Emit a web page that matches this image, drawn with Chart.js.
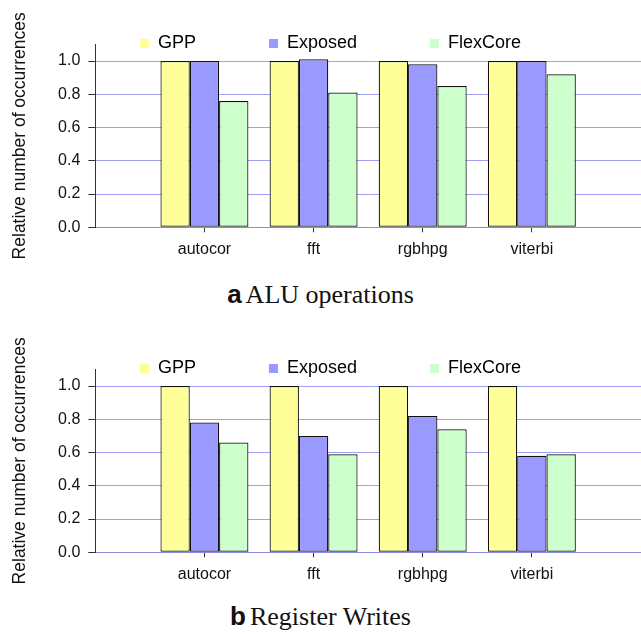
<!DOCTYPE html>
<html>
<head>
<meta charset="utf-8">
<script src="https://cdn.jsdelivr.net/npm/chart.js@4/dist/chart.umd.min.js"></script>
<style>
  html, body { margin: 0; padding: 0; background: #fff; }
  body { width: 641px; height: 634px; position: relative; overflow: hidden; }
  .box { position: absolute; left: 0; width: 641px; height: 270px; }
  .cap { position: absolute; left: 0; width: 641px; text-align: center; line-height: 26px; color: #111; white-space: nowrap; }
  .cap b { font-family: "Liberation Sans", Arial, sans-serif; font-weight: bold; font-size: 26px; }
  .cap span { font-family: "Liberation Serif", "Times New Roman", serif; font-size: 26px; }
</style>
</head>
<body>
<div class="box" style="top:0px"><canvas id="chartA"></canvas></div>
<div class="cap" style="top:281px"><b>a</b> <span>ALU operations</span></div>
<div class="box" style="top:325px"><canvas id="chartB"></canvas></div>
<div class="cap" style="top:603px"><b>b</b> <span>Register Writes</span></div>
<script>
// ---- data ----
const categories = ['autocor', 'fft', 'rgbhpg', 'viterbi'];
const seriesNames = ['GPP', 'Exposed', 'FlexCore'];
const gppA = [1.00, 1.00, 1.00, 1.00];
const exposedA = [1.00, 1.01, 0.98, 1.00];
const flexA = [0.76, 0.81, 0.85, 0.92];
const gppB = [1.00, 1.00, 1.00, 1.00];
const exposedB = [0.78, 0.70, 0.82, 0.58];
const flexB = [0.66, 0.59, 0.74, 0.59];
const yTickValues = [0.0, 0.2, 0.4, 0.6, 0.8, 1.0];
const yTitle = 'Relative number of occurrences';

const colors = ['#ffff99', '#9999ff', '#ccffcc'];
const FONT = '"Liberation Sans", Arial, Helvetica, sans-serif';
const H = 270;
const AREA_LEFT = 95.3;
const AREA_BOTTOM = 227.3;
const LEGEND_TOP = 34.5;
const LEGEND_DX = 10;

const labels = ['', ...categories, ''];
const pad = arr => [null, ...arr, null];

const legendShift = {
  id: 'legendShift',
  afterLayout(chart) {
    const lg = chart.legend;
    if (!lg) return;
    const p = lg.options.labels.padding;
    lg.top = LEGEND_TOP - p;
    lg.bottom = LEGEND_TOP + 30;
    lg.height = lg.bottom - lg.top;
    lg.left += LEGEND_DX;
    lg.right += LEGEND_DX;
  }
};

function makeChart(id, series) {
  const ctx = document.getElementById(id);
  return new Chart(ctx, {
    type: 'bar',
    data: {
      labels: labels,
      datasets: series.map((vals, i) => ({
        label: seriesNames[i],
        data: pad(vals),
        backgroundColor: colors[i],
        borderColor: '#111',
        borderWidth: 1.2,
        borderSkipped: false,
        categoryPercentage: 0.806,
        barPercentage: 1.0
      }))
    },
    options: {
      responsive: true,
      maintainAspectRatio: false,
      animation: false,
      layout: { padding: { top: 43.4, left: 0, right: 0, bottom: 0 } },
      plugins: {
        tooltip: { enabled: false },
        legend: {
          display: true,
          position: 'top',
          maxHeight: 1,
          labels: {
            boxWidth: 9,
            boxHeight: 9,
            padding: 73,
            color: '#000',
            font: { family: FONT, size: 18 },
            generateLabels(chart) {
              return Chart.defaults.plugins.legend.labels.generateLabels(chart)
                .map(l => Object.assign(l, { lineWidth: 0, strokeStyle: 'rgba(0,0,0,0)' }));
            }
          }
        }
      },
      scales: {
        x: {
          offset: false,
          afterFit(scale) {
            scale.height = H - AREA_BOTTOM;
            scale.paddingLeft = 0;
            scale.paddingRight = 0;
          },
          grid: {
            display: true,
            drawOnChartArea: false,
            drawTicks: true,
            tickLength: 5,
            tickColor: c => (c.index === 0 || c.index === labels.length - 1) ? 'rgba(0,0,0,0)' : '#333',
            offset: false
          },
          border: { display: true, color: '#8a8ad6', width: 1 },
          ticks: {
            autoSkip: false,
            maxRotation: 0,
            color: '#111',
            padding: 8,
            font: { family: FONT, size: 16 }
          }
        },
        y: {
          min: 0,
          max: 1.1,
          afterFit(scale) {
            scale.width = AREA_LEFT;
            scale.paddingTop = 0;
            scale.paddingBottom = 0;
          },
          afterBuildTicks(scale) { scale.ticks = yTickValues.map(v => ({ value: v })); },
          grid: {
            color: c => (c.tick && c.tick.value === 0) ? '#8a8ad6' : '#a0a0f2',
            lineWidth: 1,
            tickLength: 7,
            tickColor: '#333',
            drawTicks: true
          },
          border: { display: true, color: '#333', width: 1 },
          ticks: {
            color: '#111',
            padding: 8,
            font: { family: FONT, size: 16 },
            callback: v => Number(v).toFixed(1)
          },
          title: {
            display: true,
            text: yTitle,
            color: '#111',
            font: { family: FONT, size: 17.5 },
            padding: { top: 10, bottom: 0 }
          }
        }
      }
    },
    plugins: [legendShift]
  });
}

makeChart('chartA', [gppA, exposedA, flexA]);
makeChart('chartB', [gppB, exposedB, flexB]);
</script>
</body>
</html>
